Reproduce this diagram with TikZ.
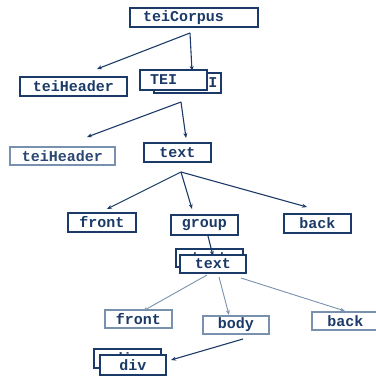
\documentclass[tikz,border=0pt]{standalone}
\usepackage{fontspec}
\newfontfamily\tagfont{Liberation Mono}
\usetikzlibrary{arrows.meta}
\definecolor{navy}{RGB}{28,58,104}
\definecolor{paleframe}{RGB}{120,145,175}
\definecolor{paletext}{RGB}{42,72,115}
\tikzset{
  tag/.style={draw=navy, line width=1.3pt, fill=white, text=navy, inner sep=0pt,
    font=\tagfont\bfseries\fontsize{15}{15}\selectfont},
  paletag/.style={tag, draw=paleframe, line width=1.1pt},
  link/.style={draw=navy, line width=1.1pt, -{Stealth[length=5pt,width=4pt]}},
  palelink/.style={link, draw=paleframe, line width=0.9pt},
}
\begin{document}
\begin{tikzpicture}[x=1pt,y=-1pt]
\useasboundingbox (0,0) rectangle (376,376);

% root
\node[tag, minimum width=128pt, minimum height=19pt, text width=102pt, align=left]
  (corpus) at (194,17.5) {teiCorpus};

% first level
\node[tag, minimum width=107pt, minimum height=19pt] (hdrA) at (73.5,86.5) {teiHeader};
\node[tag, minimum width=67pt, minimum height=20pt, text width=60pt, align=right]
  (teiB) at (187.5,83) {TEI};
\node[tag, minimum width=67pt, minimum height=20pt, text width=47pt, align=left]
  (tei) at (173.5,80) {TEI};

% second level
\node[paletag, text=paletext, minimum width=105pt, minimum height=18pt] (hdrB) at (62.5,156) {teiHeader};
\node[tag, minimum width=67pt, minimum height=19pt] (textA) at (177.5,152.5) {text};

% third level
\node[tag, minimum width=68pt, minimum height=19pt] (frontA) at (102,222.5) {front};
\node[tag, line width=2.2pt, minimum width=67pt, minimum height=20pt] (group) at (204.5,225) {group};
\node[tag, minimum width=67pt, minimum height=19pt] (backA) at (317.5,223.5) {back};

% stacked text elements inside group
\node[tag, minimum width=67pt, minimum height=18pt] (textC) at (209.5,258) {text};
\node[tag, minimum width=66pt, minimum height=18pt] (textB) at (213,264) {text};

% fourth level
\node[paletag, minimum width=67pt, minimum height=18pt] (frontB) at (138.5,319) {front};
\node[paletag, minimum width=66pt, minimum height=18pt] (body) at (236,325) {body};
\node[paletag, minimum width=67pt, minimum height=18pt] (backB) at (345.5,321) {back};

% stacked div elements
\node[tag, minimum width=67pt, minimum height=19pt] (divB) at (127.5,358.5) {div};
\node[tag, minimum width=66pt, minimum height=20pt] (div) at (133,365) {div};

% connector ends
\coordinate (sCorpus) at (190,33);
\coordinate (tHdrA) at (97,69);
\coordinate (tTei) at (192,71);
\coordinate (sTei) at (181,102);
\coordinate (tHdrB) at (87,137);
\coordinate (tTextA) at (186,138);
\coordinate (sTextA) at (181,172);
\coordinate (tFrontA) at (107,209);
\coordinate (tGroup) at (192,209);
\coordinate (tBackA) at (307,207);
\coordinate (sGroup) at (208,236);
\coordinate (tTextB) at (213,256);
\coordinate (sTextB1) at (207,275);
\coordinate (sTextB2) at (219,277);
\coordinate (sTextB3) at (241,278);
\coordinate (tFrontB) at (143,311);
\coordinate (tBody) at (229,315);
\coordinate (tBackB) at (345,311);
\coordinate (sBody) at (243,339);
\coordinate (tDiv) at (171,360);

\draw[link] (sCorpus) -- (tHdrA);
\draw[link] (sCorpus) -- (tTei);
\draw[link] (sTei) -- (tHdrB);
\draw[link] (sTei) -- (tTextA);
\draw[link] (sTextA) -- (tFrontA);
\draw[link] (sTextA) -- (tGroup);
\draw[link] (sTextA) -- (tBackA);
\draw[link] (sGroup) -- (tTextB);
\draw[palelink] (sTextB1) -- (tFrontB);
\draw[palelink] (sTextB2) -- (tBody);
\draw[palelink] (sTextB3) -- (tBackB);
\draw[link] (sBody) -- (tDiv);
\end{tikzpicture}
\end{document}
